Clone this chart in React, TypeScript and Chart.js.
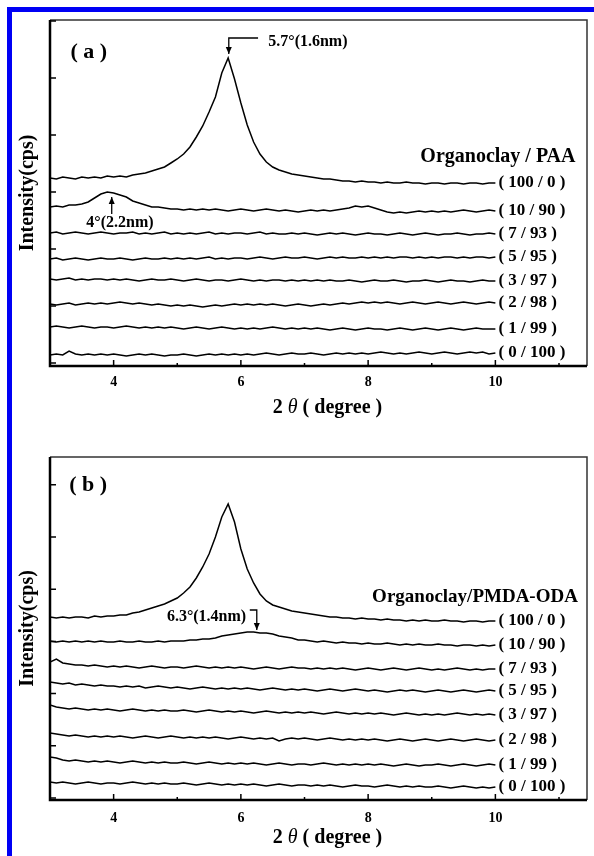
import React, { useEffect, useRef } from "react";
import { Chart, registerables } from "chart.js";

Chart.register(...registerables);

// ---------------- data ----------------
const twoTheta = [
  3.0, 3.1, 3.2, 3.3, 3.4, 3.5, 3.6, 3.7, 3.8, 3.9,
  4.0, 4.1, 4.2, 4.3, 4.4, 4.5, 4.6, 4.7, 4.8, 4.9,
  5.0, 5.1, 5.2, 5.3, 5.4, 5.5, 5.6, 5.7, 5.8, 5.9,
  6.0, 6.1, 6.2, 6.3, 6.4, 6.5, 6.6, 6.7, 6.8, 6.9,
  7.0, 7.1, 7.2, 7.3, 7.4, 7.5, 7.6, 7.7, 7.8, 7.9,
  8.0, 8.1, 8.2, 8.3, 8.4, 8.5, 8.6, 8.7, 8.8, 8.9,
  9.0, 9.1, 9.2, 9.3, 9.4, 9.5, 9.6, 9.7, 9.8, 9.9, 10.0,
];

const ratioLabels = [
  "( 100 / 0 )", "( 10 / 90 )", "( 7 / 93 )", "( 5 / 95 )",
  "( 3 / 97 )", "( 2 / 98 )", "( 1 / 99 )", "( 0 / 100 )",
];

const xMajorTicks = [4, 6, 8, 10];
const xMinorTicks = [5, 7, 9, 11];
const yTicksA = [0, 57, 114, 171, 228, 285, 342];
const yTicksB = [0, 52.2, 104.4, 156.6, 208.8, 261, 313.2];

// Panel (a): Organoclay / PAA  (intensity, offset-stacked, arbitrary cps units)
const a100_0 = [185,184,186,185,184,186,185,186,185,187,
  186,187,186,188,189,190,192,194,196,200,
  204,209,216,226,237,251,266,290,305,284,
  260,238,221,209,201,196,193,191,189,188,
  187,186,185,184,184,183,182,182,181,182,
  181,181,180,181,180,180,181,180,180,179,
  180,180,179,180,180,179,180,180,179,180,180];
const a10_90 = [156,157,156,158,158,159,161,165,169,171,
  170,168,166,162,160,158,156,156,155,154,
  154,153,154,153,154,153,154,153,152,153,
  154,153,152,153,154,153,152,153,152,151,
  152,153,152,153,152,153,154,155,157,156,
  157,155,153,151,150,151,150,151,152,151,
  152,151,152,151,152,153,152,151,152,153,152];
const a7_93 = [130,131,129,130,131,130,129,130,131,130,
  129,130,130,131,129,130,129,130,131,129,
  130,129,130,129,130,131,129,130,129,130,
  130,129,130,131,129,130,129,129,130,129,
  130,129,128,129,130,129,130,129,128,129,
  130,129,129,128,129,130,129,128,129,130,
  129,128,129,129,130,129,128,129,129,130,129];
const a5_95 = [104,105,103,104,105,104,103,104,105,104,
  104,105,104,103,104,105,104,104,105,104,
  105,104,105,104,105,106,104,105,104,105,
  105,104,105,106,105,104,105,106,105,105,
  106,105,104,105,106,105,106,105,105,106,
  105,106,105,106,105,106,106,105,106,105,
  106,105,106,106,105,106,105,106,106,105,106];
const a3_97 = [84,83,84,85,83,84,83,84,84,83,
  84,83,84,83,82,83,84,83,83,84,
  83,82,83,84,83,82,83,83,82,83,
  84,83,82,83,82,83,83,82,83,82,
  83,82,83,82,83,82,82,83,82,81,
  82,83,82,82,83,82,81,82,82,83,
  82,81,82,83,82,82,81,82,83,82,82];
const a2_98 = [59,58,59,60,58,59,60,59,60,59,
  60,61,60,59,60,59,58,59,58,57,
  58,57,58,57,56,57,58,57,58,59,
  58,59,58,59,58,59,58,57,58,59,
  58,57,58,59,58,59,60,59,60,61,
  60,61,60,61,60,59,60,61,60,59,
  60,61,60,59,60,61,60,59,60,61,60];
const a1_99 = [36,37,36,35,36,37,36,35,36,36,
  35,36,37,36,35,36,35,36,35,36,
  35,34,35,36,35,34,35,36,35,34,
  35,34,35,34,35,36,35,34,35,34,
  35,34,35,34,33,34,35,34,33,34,
  35,34,34,33,34,35,34,33,34,35,
  34,33,34,35,34,33,34,35,34,34,34];
const a0_100 = [8,9,8,12,9,8,9,8,9,8,
  9,8,7,8,9,8,9,8,7,8,
  8,9,8,7,8,9,8,9,8,9,
  8,9,8,9,10,9,8,9,10,9,
  9,10,9,8,9,10,9,10,9,10,
  9,10,11,10,9,10,9,10,11,10,
  9,10,11,10,9,10,11,10,11,9,10];

// Panel (b): Organoclay / PMDA-ODA
const b100_0 = [181,180,181,180,181,181,180,182,181,182,
  182,183,183,185,186,188,190,192,194,197,
  200,205,211,220,231,244,261,281,294,276,
  249,229,215,204,197,193,191,189,187,186,
  185,184,183,182,181,181,180,180,179,180,
  179,179,178,179,178,178,177,178,177,178,
  177,177,178,177,177,176,177,177,176,177,177];
const b10_90 = [157,156,157,156,157,156,157,156,157,156,
  156,157,156,156,157,156,156,157,156,157,
  157,157,158,158,159,159,160,162,163,164,
  165,166,166,165,165,164,162,161,160,158,
  158,157,156,157,156,155,156,155,155,154,
  155,154,154,155,154,153,154,153,154,153,
  153,154,153,153,152,153,153,152,153,152,153];
const b7_93 = [136,139,135,134,133,133,132,133,132,131,
  132,131,132,131,130,131,132,131,130,131,
  131,130,131,132,131,130,131,130,131,130,
  131,130,129,130,131,130,129,130,131,130,
  130,129,130,129,130,129,130,129,128,129,
  130,129,128,129,130,129,128,129,130,129,
  128,129,128,129,130,129,128,129,128,129,129];
const b5_95 = [116,115,114,115,113,114,113,112,113,112,
  112,111,112,111,112,110,111,112,111,110,
  111,110,109,110,111,110,109,110,109,110,
  109,110,109,108,109,110,109,108,109,108,
  109,108,107,108,109,108,107,108,109,108,
  107,108,107,106,107,108,107,108,107,106,
  107,108,107,106,107,108,107,106,107,108,107];
const b3_97 = [93,91,90,89,90,89,88,89,88,89,
  88,87,88,89,88,87,88,87,88,87,
  87,88,87,86,87,88,87,86,87,86,
  87,86,85,86,87,86,85,86,85,86,
  85,86,85,84,85,86,85,84,85,84,
  85,84,85,84,83,84,85,84,83,84,
  83,84,83,84,85,84,83,84,83,84,83];
const b2_98 = [65,64,63,62,63,62,61,62,61,62,
  61,62,61,60,61,62,61,60,61,62,
  61,60,61,60,61,60,61,60,59,60,
  61,60,59,60,59,60,57,59,60,59,
  60,59,58,59,60,59,58,59,58,59,
  58,59,58,57,58,59,58,57,58,59,
  58,57,58,59,58,57,58,59,58,57,58];
const b1_99 = [41,40,38,37,38,37,36,37,36,37,
  36,35,36,37,36,35,36,35,36,35,
  35,36,35,34,35,36,35,34,35,34,
  35,34,35,34,33,34,35,34,33,34,
  34,33,34,35,34,33,34,33,34,33,
  34,33,34,33,32,33,34,33,32,33,
  33,34,33,32,33,34,33,32,33,34,33];
const b0_100 = [16,15,16,15,14,15,16,15,14,15,
  15,14,15,16,15,14,15,14,15,14,
  14,15,14,13,14,15,14,13,14,13,
  14,13,14,13,12,13,14,13,12,13,
  13,12,13,12,13,12,11,12,13,12,
  12,11,12,13,12,11,12,11,12,11,
  11,12,11,10,11,12,11,10,11,10,11];

const seriesA = [a100_0, a10_90, a7_93, a5_95, a3_97, a2_98, a1_99, a0_100];
const seriesB = [b100_0, b10_90, b7_93, b5_95, b3_97, b2_98, b1_99, b0_100];

// ---------------- styling / layout ----------------
const SERIF = '"Liberation Serif", "Times New Roman", serif';

type Note = { text: string; x: number; y: number; size: number; align: CanvasTextAlign };
type Arrow = { pts: [number, number][] };

type PanelCfg = {
  id: string;
  series: number[][];
  yTicks: number[];
  yMin: number;
  yMax: number;
  xMin: number;
  xMax: number;
  height: number;
  padTop: number;
  xAxisHeight: number;
  tickPad: number;
  titleGap: number;
  notes: Note[];
  arrows: Arrow[];
};

const panelA: PanelCfg = {
  id: "a",
  series: seriesA,
  yTicks: yTicksA,
  yMin: -3,
  yMax: 343,
  xMin: 3,
  xMax: 11.44,
  height: 430,
  padTop: 20,
  xAxisHeight: 64,
  tickPad: 8,
  titleGap: 42,
  notes: [
    { text: "( a )", x: 3.61, y: 311, size: 22, align: "center" },
    { text: "5.7°(1.6nm)", x: 6.43, y: 321, size: 16, align: "left" },
    { text: "Organoclay / PAA", x: 10.04, y: 206, size: 20, align: "center" },
    { text: "4°(2.2nm)", x: 4.1, y: 140, size: 16, align: "center" },
  ],
  arrows: [
    { pts: [[6.27, 325], [5.81, 325], [5.81, 309]] },
    { pts: [[3.97, 149], [3.97, 166]] },
  ],
};

const panelB: PanelCfg = {
  id: "b",
  series: seriesB,
  yTicks: yTicksB,
  yMin: -2,
  yMax: 341,
  xMin: 3,
  xMax: 11.44,
  height: 426,
  padTop: 27,
  xAxisHeight: 56,
  tickPad: 9.6,
  titleGap: 38,
  notes: [
    { text: "( b )", x: 3.6, y: 313, size: 22, align: "center" },
    { text: "Organoclay/PMDA-ODA", x: 9.68, y: 201, size: 19, align: "center" },
    { text: "6.3°(1.4nm)", x: 5.46, y: 181, size: 16, align: "center" },
  ],
  arrows: [{ pts: [[6.14, 188], [6.25, 188], [6.25, 168]] }],
};

function makeDeco(cfg: PanelCfg) {
  return {
    id: "deco_" + cfg.id,
    afterDatasetsDraw(chart: any) {
      const { ctx, chartArea: a, scales } = chart;
      const xs = scales.x;
      const ys = scales.y;
      const px = (v: number) => xs.getPixelForValue(v);
      const py = (v: number) => ys.getPixelForValue(v);
      ctx.save();

      // frame: thin top/right, thick left/bottom
      ctx.strokeStyle = "#333";
      ctx.lineWidth = 1.5;
      ctx.beginPath();
      ctx.moveTo(a.left, a.top);
      ctx.lineTo(a.right, a.top);
      ctx.lineTo(a.right, a.bottom);
      ctx.stroke();
      ctx.strokeStyle = "#000";
      ctx.lineWidth = 2.5;
      ctx.beginPath();
      ctx.moveTo(a.left, a.top);
      ctx.lineTo(a.left, a.bottom);
      ctx.lineTo(a.right, a.bottom);
      ctx.stroke();

      // inward ticks
      ctx.lineWidth = 1.5;
      ctx.beginPath();
      cfg.yTicks.forEach((v) => {
        const p = py(v);
        ctx.moveTo(a.left, p);
        ctx.lineTo(a.left + 6, p);
      });
      xMajorTicks.forEach((v) => {
        const p = px(v);
        ctx.moveTo(p, a.bottom);
        ctx.lineTo(p, a.bottom - 6);
      });
      xMinorTicks.forEach((v) => {
        const p = px(v);
        ctx.moveTo(p, a.bottom);
        ctx.lineTo(p, a.bottom - 3);
      });
      ctx.stroke();

      // ratio labels at curve ends
      ctx.fillStyle = "#000";
      ctx.textBaseline = "middle";
      ctx.textAlign = "left";
      ctx.font = `bold 17px ${SERIF}`;
      cfg.series.forEach((s, i) => {
        const last = s[s.length - 1];
        ctx.fillText(ratioLabels[i], px(twoTheta[twoTheta.length - 1]) + 3, py(last));
      });

      // notes
      cfg.notes.forEach((n) => {
        ctx.font = `bold ${n.size}px ${SERIF}`;
        ctx.textAlign = n.align;
        ctx.fillText(n.text, px(n.x), py(n.y));
      });

      // arrows
      ctx.lineWidth = 1.3;
      cfg.arrows.forEach((ar) => {
        const pts = ar.pts.map(([x, y]) => [px(x), py(y)]);
        ctx.beginPath();
        pts.forEach(([x, y], i) => (i ? ctx.lineTo(x, y) : ctx.moveTo(x, y)));
        ctx.stroke();
        const [x1, y1] = pts[pts.length - 2];
        const [x2, y2] = pts[pts.length - 1];
        const ang = Math.atan2(y2 - y1, x2 - x1);
        const L = 7, W = 3;
        ctx.beginPath();
        ctx.moveTo(x2, y2);
        ctx.lineTo(x2 - L * Math.cos(ang) + W * Math.sin(ang), y2 - L * Math.sin(ang) - W * Math.cos(ang));
        ctx.lineTo(x2 - L * Math.cos(ang) - W * Math.sin(ang), y2 - L * Math.sin(ang) + W * Math.cos(ang));
        ctx.closePath();
        ctx.fill();
      });

      // x axis title with italic theta
      const parts: [string, string][] = [
        ["2 ", `bold 20px ${SERIF}`],
        ["θ", `italic 20px ${SERIF}`],
        [" ( degree )", `bold 20px ${SERIF}`],
      ];
      let total = 0;
      parts.forEach(([t, f]) => {
        ctx.font = f;
        total += ctx.measureText(t).width;
      });
      let cx = (a.left + a.right) / 2 + 9 - total / 2;
      const cy = a.bottom + cfg.titleGap;
      ctx.textAlign = "left";
      parts.forEach(([t, f]) => {
        ctx.font = f;
        ctx.fillText(t, cx, cy);
        cx += ctx.measureText(t).width;
      });

      ctx.restore();
    },
  };
}

function buildConfig(cfg: PanelCfg): any {
  return {
    type: "line",
    data: {
      datasets: cfg.series.map((s, i) => ({
        label: ratioLabels[i],
        data: s.map((v, j) => ({ x: twoTheta[j], y: v })),
        borderColor: "#000",
        borderWidth: 1.5,
        pointRadius: 0,
        fill: false,
        tension: 0,
      })),
    },
    options: {
      responsive: false,
      animation: false,
      events: [],
      layout: { padding: { top: cfg.padTop, right: 7, left: 0, bottom: 0 } },
      plugins: { legend: { display: false }, tooltip: { enabled: false } },
      scales: {
        x: {
          type: "linear",
          min: cfg.xMin,
          max: cfg.xMax,
          afterBuildTicks: (s: any) => {
            s.ticks = xMajorTicks.map((v) => ({ value: v }));
          },
          ticks: {
            color: "#000",
            font: { family: SERIF, size: 14, weight: "bold" },
            padding: cfg.tickPad,
            maxRotation: 0,
            autoSkip: false,
          },
          grid: { display: false, drawTicks: false },
          border: { display: false },
          afterFit: (s: any) => {
            s.height = cfg.xAxisHeight;
          },
        },
        y: {
          type: "linear",
          min: cfg.yMin,
          max: cfg.yMax,
          afterBuildTicks: (s: any) => {
            s.ticks = cfg.yTicks.map((v) => ({ value: v }));
          },
          ticks: { display: false },
          grid: { display: false, drawTicks: false },
          border: { display: false },
          title: {
            display: true,
            text: "Intensity(cps)",
            color: "#000",
            font: { family: SERIF, size: 20, weight: "bold", lineHeight: 1 },
            padding: { top: 18, bottom: 0 },
          },
          afterFit: (s: any) => {
            s.width = 50;
          },
        },
      },
    },
    plugins: [makeDeco(cfg)],
  };
}

function Panel({ cfg, top }: { cfg: PanelCfg; top: number }) {
  const ref = useRef<HTMLCanvasElement>(null);
  useEffect(() => {
    const chart = new Chart(ref.current as HTMLCanvasElement, buildConfig(cfg));
    return () => chart.destroy();
  }, [cfg]);
  return (
    <canvas
      ref={ref}
      width={594}
      height={cfg.height}
      style={{ position: "absolute", left: 0, top, width: 594, height: cfg.height, display: "block" }}
    />
  );
}

export default function App() {
  return (
    <div
      style={{
        position: "absolute",
        left: 0,
        top: 0,
        width: 594,
        height: 856,
        background: "#fff",
        overflow: "hidden",
      }}
    >
      <Panel cfg={panelA} top={0} />
      <Panel cfg={panelB} top={430} />
      <div style={{ position: "absolute", left: 7, top: 7, width: 587, height: 5, background: "#0000f5" }} />
      <div style={{ position: "absolute", left: 7, top: 7, width: 5, height: 849, background: "#0000f5" }} />
    </div>
  );
}
